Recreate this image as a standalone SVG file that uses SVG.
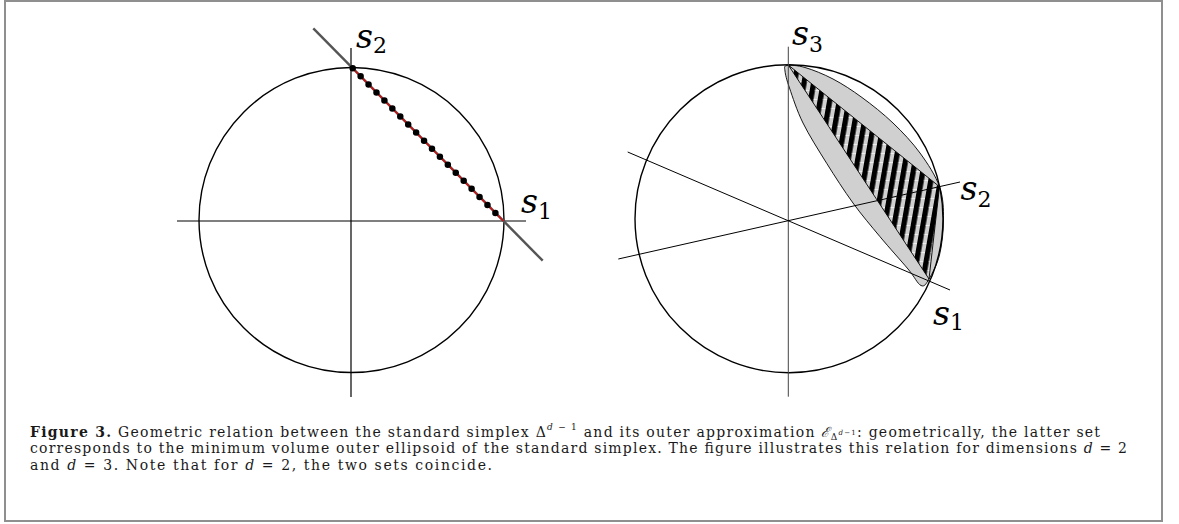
<svg xmlns="http://www.w3.org/2000/svg" width="1179" height="524" viewBox="0 0 1179 524">
<style>
.ax{stroke:#000;stroke-width:1.2;fill:none}
.axr{stroke:#000;stroke-width:1;fill:none}
.circ{stroke:#000;stroke-width:1.4;fill:none}
</style>
<defs>
<pattern id="hatch" patternUnits="userSpaceOnUse" width="9.6" height="9" patternTransform="skewX(-10)">
<rect width="9.6" height="9" fill="#d0d0d0"/>
<rect x="0" y="0" width="5.4" height="9" fill="#000"/>
<rect x="5.4" y="0" width="4.2" height="0.8" fill="#fff" opacity="0.8"/>
</pattern>
</defs>
<rect id="frame" x="5" y="1" width="1157" height="520" fill="#fff" stroke="#8f8f8f" stroke-width="2"/>

<g id="left-plot">
<circle class="circ" cx="351.5" cy="220" r="152.5"/>
<g id="left-axes">
<line class="ax" x1="177" y1="221" x2="526" y2="221"/>
<line class="ax" x1="351" y1="48" x2="351" y2="397"/>
</g>
<line id="left-affine-line" x1="313.3" y1="28.3" x2="542.7" y2="260.7" stroke="#555" stroke-width="2.4"/>
<line id="left-ellipse" x1="352.7" y1="68.3" x2="503.3" y2="221" stroke="#d01010" stroke-width="1.6"/>
<line id="left-simplex" x1="352.7" y1="68.3" x2="503.3" y2="221" stroke="#000" stroke-width="6.5" stroke-linecap="round" stroke-dasharray="0 11.29"/>
<g id="left-s2"><text x="356" y="48.3" font-family="'DejaVu Serif', serif" font-size="33" fill="#000"><tspan font-style="italic">s</tspan><tspan font-size="22" dy="5">2</tspan></text></g>
<g id="left-s1"><text x="521" y="213.3" font-family="'DejaVu Serif', serif" font-size="33" fill="#000"><tspan font-style="italic">s</tspan><tspan font-size="22" dy="6">1</tspan></text></g>
</g>

<g id="right-plot">
<path id="outer-ellipse" d="M787,65.5 C790.33,64.92 797.33,65.25 805,67.5 C812.67,69.75 823.5,74 833,79 C842.5,84 852,90.17 862,97.5 C872,104.83 883.33,113.75 893,123 C902.67,132.25 912.25,142.38 920,153 C927.75,163.62 935.58,175.53 939.5,186.7 C943.42,197.87 943.5,208.62 943.5,220 C943.5,231.38 941.92,245.17 939.5,255 C937.08,264.83 932.08,273.92 929,279 C925.92,284.08 924.5,287.17 921,285.5 C917.5,283.83 914.83,277.13 908,269 C901.17,260.87 889.17,247.7 880,236.7 C870.83,225.7 861.88,215.23 853,203 C844.12,190.77 835.03,176.63 826.7,163.3 C818.37,149.97 809.2,135.55 803,123 C796.8,110.45 792.5,96.67 789.5,88 C786.5,79.33 785.42,74.75 785,71 C784.58,67.25 783.67,66.08 787,65.5 Z" fill="#d0d0d0" stroke="#000" stroke-width="0.9"/>
<path id="simplex" d="M788.3,65 L939.5,186.7 L929,279 Z" fill="url(#hatch)" stroke="#000" stroke-width="0.9"/>
<circle class="circ" cx="789" cy="218.7" r="154"/>
<g id="right-axes">
<line x1="788.3" y1="46.7" x2="788.3" y2="396.7" stroke="#444" stroke-width="1"/>
<line class="axr" x1="618.3" y1="259" x2="960" y2="182"/>
<line class="axr" x1="627.7" y1="152" x2="950" y2="290"/>
</g>
<g id="right-s3"><text x="792" y="45" font-family="'DejaVu Serif', serif" font-size="33" fill="#000"><tspan font-style="italic">s</tspan><tspan font-size="22" dy="6.7">3</tspan></text></g>
<g id="right-s2"><text x="960.5" y="200" font-family="'DejaVu Serif', serif" font-size="33" fill="#000"><tspan font-style="italic">s</tspan><tspan font-size="22" dy="6.7">2</tspan></text></g>
<g id="right-s1"><text x="933" y="325" font-family="'DejaVu Serif', serif" font-size="33" fill="#000"><tspan font-style="italic">s</tspan><tspan font-size="22" dy="5">1</tspan></text></g>
</g>

<g id="caption" font-family="'DejaVu Serif', serif" font-size="14" fill="#1a1a1a">
<text x="30" y="436.5" textLength="1070" lengthAdjust="spacing"><tspan font-weight="bold">Figure 3.</tspan> Geometric relation between the standard simplex Δ<tspan font-size="9" dy="-7"><tspan font-style="italic">d</tspan> − 1</tspan><tspan dy="7"> and its outer approximation </tspan><tspan font-style="italic">ℰ</tspan><tspan font-size="9" dy="3">Δ</tspan><tspan font-size="7" dy="-5"><tspan font-style="italic">d</tspan>−1</tspan><tspan dy="2">: geometrically, the latter set</tspan></text>
<text x="30" y="453" textLength="1097" lengthAdjust="spacing">corresponds to the minimum volume outer ellipsoid of the standard simplex. The figure illustrates this relation for dimensions <tspan font-style="italic">d</tspan> = 2</text>
<text x="30" y="469.5" textLength="462" lengthAdjust="spacing">and <tspan font-style="italic">d</tspan> = 3. Note that for <tspan font-style="italic">d</tspan> = 2, the two sets coincide.</text>
</g>
</svg>
